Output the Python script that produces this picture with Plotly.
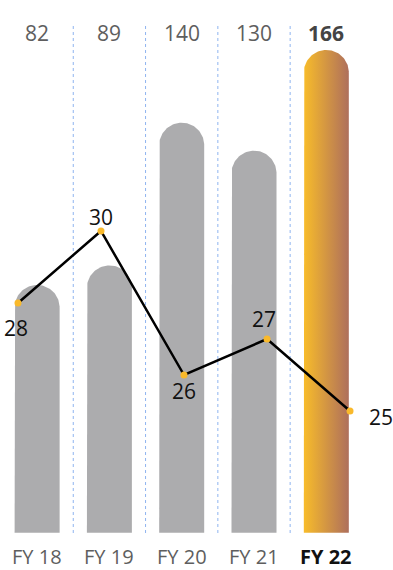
import numpy as np
import plotly.graph_objects as go

# ---- data ----
categories = ["FY 18", "FY 19", "FY 20", "FY 21", "FY 22"]
bar_values = [82, 89, 140, 130, 166]
line_values = [28, 30, 26, 27, 25]

# ---- styling ----
W, H = 393, 570
GRAY = "#ACACAE"
GRAD = [[0, "#F8BC2A"], [1, "#AE6F5C"]]
MARKER = "#F9B92B"
FONT = "Open Sans"
BAR_BASE = -6.6          # bars extend slightly below the zero line
BAR_PX = 45              # bar width in pixels

# pixel geometry of the bar axis
X0_PX, X_STEP = 37.1, 72.3          # centre of first slot, slot pitch
Y0_PX, Y_SCALE = 514.4, 2.798       # pixel of value 0, pixels per unit
# pixel geometry of the line axis
LX0_PX, LX_STEP = 18.0, 83.0
LY_REF, LY_PX, LY_SCALE = 28, 303.0, 36.0

xr = [-X0_PX / X_STEP, (W - X0_PX) / X_STEP]
yr = [(Y0_PX - H) / Y_SCALE, Y0_PX / Y_SCALE]
x2r = [-LX0_PX / LX_STEP, (W - LX0_PX) / LX_STEP]
y2r = [LY_REF - (H - LY_PX) / LY_SCALE, LY_REF + LY_PX / LY_SCALE]

idx = np.arange(len(categories))
bar_w = BAR_PX / X_STEP


def pill_outline(cx, top):
    """Outline of a bar with a semicircular top, in data units."""
    hw = bar_w / 2
    ry = (BAR_PX / 2) / Y_SCALE
    theta = np.linspace(np.pi, 0, 60)
    xs = np.concatenate([[cx - hw, cx - hw], cx + hw * np.cos(theta), [cx + hw, cx - hw]])
    ys = np.concatenate([[BAR_BASE, top - ry], top - ry + ry * np.sin(theta),
                         [BAR_BASE, BAR_BASE]])
    return xs, ys


fig = go.Figure()

last = len(categories) - 1
for i, v in enumerate(bar_values):
    xs, ys = pill_outline(idx[i], v)
    style = (dict(fillgradient=dict(type="horizontal", colorscale=GRAD))
             if i == last else dict(fillcolor=GRAY))
    fig.add_trace(go.Scatter(
        x=xs, y=ys, mode="lines", fill="toself", line=dict(width=0),
        xaxis="x", yaxis="y", hoverinfo="skip", showlegend=False, **style,
    ))

# line series on its own axes
fig.add_trace(go.Scatter(
    x=idx, y=line_values, mode="lines+markers",
    line=dict(color="#000000", width=2.5),
    marker=dict(color=MARKER, size=7, line_width=0),
    xaxis="x2", yaxis="y2", hoverinfo="skip", showlegend=False,
))

# dotted separators between year slots
shapes = []
for i in range(len(categories) - 1):
    shapes.append(dict(
        type="line", xref="x", yref="paper", x0=i + 0.5, x1=i + 0.5,
        y0=1 - 533 / H, y1=1 - 23 / H,
        line=dict(color="#8FB4F0", width=1, dash="dot"), layer="below",
    ))

annotations = []
# value labels above each slot
for i, v in enumerate(bar_values):
    bold = i == last
    annotations.append(dict(
        x=i, y=1 - 33 / H, xref="x", yref="paper", showarrow=False,
        xanchor="center", yanchor="middle",
        text=f"<b>{v}</b>" if bold else str(v),
        font=dict(family=FONT, size=21, color="#444444" if bold else "#5E5E5E"),
    ))
# category labels along the bottom
for i, c in enumerate(categories):
    bold = i == last
    annotations.append(dict(
        x=i, y=1 - 556 / H, xref="x", yref="paper", showarrow=False,
        xanchor="center", yanchor="middle",
        text=f"<b>{c}</b>" if bold else c,
        font=dict(family=FONT, size=20, color="#111111" if bold else "#5E5E5E"),
    ))
# line point labels
label_shift = [(-2, -25), (0, 14), (0, -16), (-3, 20), (31, -6)]
for i, (v, (dx, dy)) in enumerate(zip(line_values, label_shift)):
    annotations.append(dict(
        x=i, y=v, xref="x2", yref="y2", showarrow=False, text=str(v),
        xanchor="center", yanchor="middle", xshift=dx, yshift=dy,
        font=dict(family=FONT, size=21, color="#111111"),
    ))

hidden = dict(visible=False, showgrid=False, zeroline=False, fixedrange=True)
fig.update_layout(
    width=W, height=H, autosize=False,
    margin=dict(l=0, r=0, t=0, b=0, pad=0),
    paper_bgcolor="white", plot_bgcolor="white",
    xaxis=dict(range=xr, **hidden),
    yaxis=dict(range=yr, **hidden),
    xaxis2=dict(range=x2r, overlaying="x", **hidden),
    yaxis2=dict(range=y2r, overlaying="y", **hidden),
    shapes=shapes, annotations=annotations,
)

fig.write_html("out.html", config={"displayModeBar": False})
